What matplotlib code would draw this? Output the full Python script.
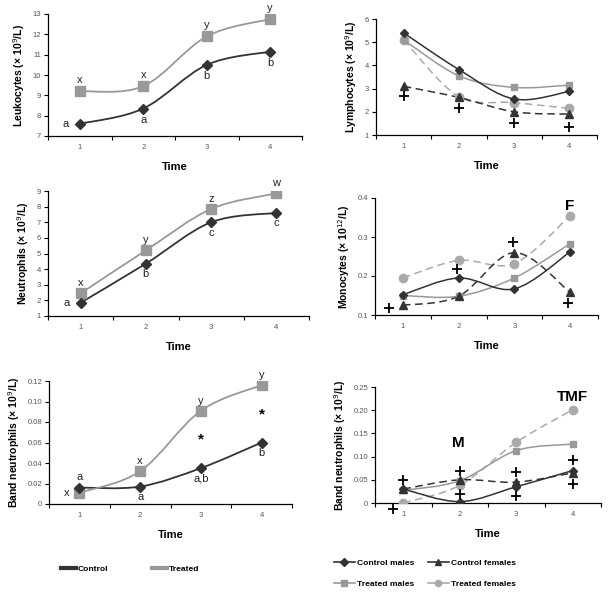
import matplotlib
matplotlib.use("Agg")
import matplotlib.pyplot as plt
import numpy as np
from matplotlib.path import Path
from matplotlib.patches import PathPatch
from matplotlib.lines import Line2D
from matplotlib import font_manager

plt.rcParams['font.family'] = ['Liberation Sans', 'DejaVu Sans']

time = [1, 2, 3, 4]
time_labels = ['1', '2', '3', '4']

# Leukocytes
leuk_control = [7.6, 8.35, 10.5, 11.15]
leuk_treated = [9.2, 9.45, 11.9, 12.75]
leuk_control_lbl = ['a', 'a', 'b', 'b']
leuk_treated_lbl = ['x', 'x', 'y', 'y']

# Neutrophils
neut_control = [1.85, 4.35, 7.0, 7.6]
neut_treated = [2.45, 5.2, 7.85, 8.85]
neut_control_lbl = ['a', 'b', 'c', 'c']
neut_treated_lbl = ['x', 'y', 'z', 'w']

# Band neutrophils
band_control = [0.016, 0.017, 0.035, 0.060]
band_treated = [0.011, 0.032, 0.091, 0.116]
band_control_lbl = ['a', 'a', 'a,b', 'b']
band_treated_lbl = ['x', 'x', 'y', 'y']
band_star_x = [3, 4]
band_star_y = [0.063, 0.087]

# Lymphocytes by sex
lym_cm = [5.4, 3.82, 2.55, 2.88]
lym_cf = [3.1, 2.62, 2.0, 1.9]
lym_tm = [5.1, 3.55, 3.05, 3.15]
lym_tf = [5.1, 2.65, 2.4, 2.15]
lym_plus_x = [1, 2, 3, 4]
lym_plus_y = [2.7, 2.15, 1.5, 1.35]

# Monocytes by sex
mono_cm = [0.152, 0.195, 0.167, 0.262]
mono_cf = [0.125, 0.148, 0.26, 0.158]
mono_tm = [0.15, 0.148, 0.195, 0.283]
mono_tf = [0.195, 0.24, 0.232, 0.355]
mono_plus_x = [0.75, 1.97, 2.98, 3.97]
mono_plus_y = [0.117, 0.218, 0.287, 0.13]

# Band neutrophils by sex
bs_cm = [0.030, 0.003, 0.035, 0.070]
bs_cf = [0.030, 0.050, 0.045, 0.065]
bs_tm = [0.027, 0.048, 0.113, 0.127]
bs_tf = [0.000, 0.038, 0.131, 0.201]
bs_plus_x = [1.0, 0.82, 2.0, 2.0, 3.0, 3.0, 4.0, 4.0]
bs_plus_y = [0.050, -0.012, 0.068, 0.020, 0.066, 0.015, 0.092, 0.042]

DARK = '#333333'
GRAY = '#999999'
LIGHT = '#aaaaaa'

installed = {f.name for f in font_manager.fontManager.ttflist}
NARROW = 'Liberation Sans Narrow' in installed
LEG_FAMILY = ['Liberation Sans Narrow'] if NARROW else ['Liberation Sans']
LEG_SIZE = 7 if NARROW else 6.1

W, H = 608, 596
fig = plt.figure(figsize=(W / 100, H / 100), dpi=100)


def make_ax(l, r, t, b):
    return fig.add_axes([l / W, 1 - b / H, (r - l) / W, (b - t) / H])


def smooth(ax, x, y, color, ls='-', lw=1.3, z=2):
    x = np.asarray(x, float)
    y = np.asarray(y, float)
    n = len(x)
    px = np.concatenate([[x[0]], x, [x[-1]]])
    py = np.concatenate([[y[0]], y, [y[-1]]])
    verts = [(x[0], y[0])]
    codes = [Path.MOVETO]
    for i in range(n - 1):
        p0 = np.array([px[i], py[i]])
        p1 = np.array([px[i + 1], py[i + 1]])
        p2 = np.array([px[i + 2], py[i + 2]])
        p3 = np.array([px[i + 3], py[i + 3]])
        c1 = p1 + (p2 - p0) / 6
        c2 = p2 - (p3 - p1) / 6
        verts += [tuple(c1), tuple(c2), tuple(p2)]
        codes += [Path.CURVE4] * 3
    patch = PathPatch(Path(verts, codes), fill=False, edgecolor=color,
                      lw=lw, linestyle=ls, zorder=z)
    ax.add_patch(patch)


def style(ax, ylim, yticks, yfmt, ylabel):
    ax.set_xlim(0.5, 4.5)
    ax.set_ylim(*ylim)
    ax.set_yticks(yticks)
    ax.set_yticklabels([yfmt.format(v) for v in yticks])
    ax.set_xticks([0.5, 1.5, 2.5, 3.5, 4.5])
    ax.set_xticklabels([])
    ax.set_xticks(time, minor=True)
    ax.set_xticklabels(time_labels, minor=True)
    ax.tick_params(axis='x', which='minor', length=0, labelsize=5.5,
                   labelcolor='#555555', pad=6)
    ax.tick_params(axis='x', which='major', length=3, width=0.8, direction='out')
    ax.tick_params(axis='y', length=3, width=0.8, labelsize=5.5,
                   labelcolor='#555555', pad=2)
    for s in ['top', 'right']:
        ax.spines[s].set_visible(False)
    for s in ['left', 'bottom']:
        ax.spines[s].set_linewidth(0.9)
    ax.set_xlabel('Time', fontsize=8, fontweight='bold', labelpad=8)
    ax.set_ylabel(ylabel, fontsize=7.5, fontweight='bold', labelpad=4)
    ax.patch.set_alpha(0)


def group_panel(ax, ctrl, trt, clbl, tlbl, cpos, tpos, dy):
    smooth(ax, time, ctrl, DARK)
    smooth(ax, time, trt, GRAY)
    ax.plot(time, trt, ls='none', marker='s', ms=6.5, color=GRAY, zorder=3)
    ax.plot(time, ctrl, ls='none', marker='D', ms=5, color=DARK, zorder=4)
    for i in range(4):
        for val, lab, pos in ((ctrl[i], clbl[i], cpos[i]), (trt[i], tlbl[i], tpos[i])):
            if pos == 'below':
                ax.text(time[i], val - dy, lab, ha='center', va='top', fontsize=8, color='#222222')
            elif pos == 'above':
                ax.text(time[i], val + dy, lab, ha='center', va='bottom', fontsize=8, color='#222222')
            else:
                ax.text(time[i] - 0.17, val, lab, ha='right', va='center', fontsize=8, color='#222222')


def sex_panel(ax, cm, cf, tm, tf, px, py):
    smooth(ax, time, tf, LIGHT, ls=(0, (5, 3)), lw=1.1)
    smooth(ax, time, tm, GRAY, lw=1.1)
    smooth(ax, time, cf, DARK, ls=(0, (5, 3)), lw=1.1)
    smooth(ax, time, cm, DARK, lw=1.1)
    ax.plot(time, tf, ls='none', marker='o', ms=6, color=LIGHT, zorder=3)
    ax.plot(time, tm, ls='none', marker='s', ms=4.5, color=GRAY, zorder=3)
    ax.plot(time, cf, ls='none', marker='^', ms=6, color=DARK, zorder=4)
    ax.plot(time, cm, ls='none', marker='D', ms=4.5, color=DARK, zorder=4)
    ax.plot(px, py, ls='none', marker='+', ms=7, mew=1.3, color='black', zorder=5,
            clip_on=False)


# Top-left
ax1 = make_ax(48, 302, 14, 136)
style(ax1, (7, 13), [7, 8, 9, 10, 11, 12, 13], '{:g}', 'Leukocytes (× 10$^9$/L)')
group_panel(ax1, leuk_control, leuk_treated, leuk_control_lbl, leuk_treated_lbl,
            ['left', 'below', 'below', 'below'], ['above'] * 4, 0.3)

# Middle-left
ax3 = make_ax(48, 309, 191, 316)
style(ax3, (1, 9), list(range(1, 10)), '{:g}', 'Neutrophils (× 10$^9$/L)')
group_panel(ax3, neut_control, neut_treated, neut_control_lbl, neut_treated_lbl,
            ['left', 'below', 'below', 'below'], ['above'] * 4, 0.35)

# Bottom-left
ax5 = make_ax(49, 292, 381, 504)
yt = [0, 0.02, 0.04, 0.06, 0.08, 0.10, 0.12]
style(ax5, (0, 0.12), yt, '{:.2f}', 'Band neutrophils (× 10$^9$/L)')
ax5.set_yticklabels(['0'] + ['{:.2f}'.format(v) for v in yt[1:]])
group_panel(ax5, band_control, band_treated, band_control_lbl, band_treated_lbl,
            ['above', 'below', 'below', 'below'], ['left', 'above', 'above', 'above'], 0.005)
for sx, sy in zip(band_star_x, band_star_y):
    ax5.text(sx, sy, '*', fontsize=11, fontweight='bold', ha='center', va='center')

# Top-right
ax2 = make_ax(376, 597, 19, 135)
style(ax2, (1, 6), [1, 2, 3, 4, 5, 6], '{:g}', 'Lymphocytes (× 10$^9$/L)')
sex_panel(ax2, lym_cm, lym_cf, lym_tm, lym_tf, lym_plus_x, lym_plus_y)

# Middle-right
ax4 = make_ax(375, 598, 198, 315)
style(ax4, (0.1, 0.4), [0.1, 0.2, 0.3, 0.4], '{:.1f}', 'Monocytes (× 10$^{12}$/L)')
sex_panel(ax4, mono_cm, mono_cf, mono_tm, mono_tf, mono_plus_x, mono_plus_y)
ax4.text(4.0, 0.38, 'F', fontsize=11, fontweight='bold', ha='center', va='center')

# Bottom-right
ax6 = make_ax(375, 601, 387, 503)
yt6 = [0, 0.05, 0.10, 0.15, 0.20, 0.25]
style(ax6, (0, 0.25), yt6, '{:.2f}', 'Band neutrophils (× 10$^9$/L)')
ax6.set_yticklabels(['0'] + ['{:.2f}'.format(v) for v in yt6[1:]])
sex_panel(ax6, bs_cm, bs_cf, bs_tm, bs_tf, bs_plus_x, bs_plus_y)
ax6.text(1.97, 0.129, 'M', fontsize=11, fontweight='bold', ha='center', va='center')
ax6.text(4.0, 0.228, 'TMF', fontsize=11, fontweight='bold', ha='center', va='center')

# Legends
leg_prop = {'weight': 'bold', 'size': LEG_SIZE, 'family': LEG_FAMILY}
h_ctrl = Line2D([], [], color=DARK, lw=3)
h_trt = Line2D([], [], color=GRAY, lw=3)
fig.legend([h_ctrl, h_trt], ['Control', 'Treated'], loc='center',
           bbox_to_anchor=(130 / W, 1 - 569 / H), ncol=2, frameon=False,
           prop=leg_prop, handlelength=1.8, handletextpad=0.2,
           columnspacing=5.1)

h_cm = Line2D([], [], color=DARK, lw=1.2, marker='D', ms=4, markevery=[0, -1])
h_cf = Line2D([], [], color=DARK, lw=1.2, marker='^', ms=5, markevery=[0, -1])
h_tm = Line2D([], [], color=GRAY, lw=1.2, marker='s', ms=4.5, markevery=[0, -1])
h_tf = Line2D([], [], color=LIGHT, lw=1.2, marker='o', ms=4.5, markevery=[0, -1])
fig.legend([h_cm, h_tm, h_cf, h_tf],
           ['Control males', 'Treated males', 'Control females', 'Treated females'],
           loc='center', bbox_to_anchor=(425 / W, 1 - 573.5 / H), ncol=2, frameon=False,
           prop=leg_prop, handlelength=2.5, handletextpad=0.3,
           columnspacing=1.5, labelspacing=1.6)

fig.savefig('out.png', dpi=100)
